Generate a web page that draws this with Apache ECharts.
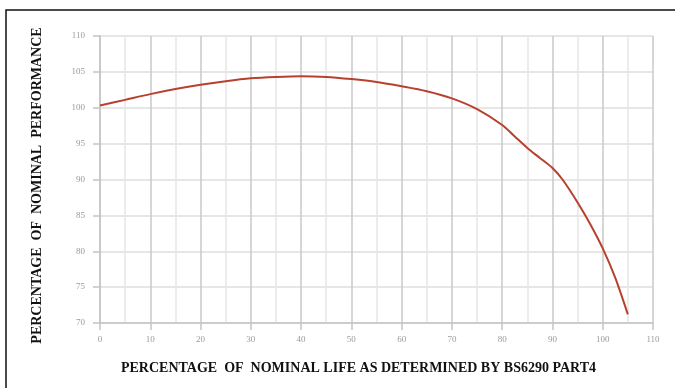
<!DOCTYPE html>
<html>
<head>
<meta charset="utf-8">
<script src="https://cdn.jsdelivr.net/npm/echarts@6/dist/echarts.min.js"></script>
<style>
  html, body { margin: 0; padding: 0; background: #fff; }
  #chart { width: 675px; height: 388px; }
</style>
</head>
<body>
<div id="chart"></div>
<script>
// Percentage of nominal life (x) against percentage of nominal performance (y)
const lifePct = [0, 5, 10, 15, 20, 25, 30, 35, 40, 45, 50, 55, 60, 65, 70, 75, 80, 82.5, 85, 87.5, 90, 92, 95, 97.5, 100, 102.5, 105];
const performancePct = [100.3, 101.1, 101.9, 102.6, 103.2, 103.7, 104.1, 104.3, 104.4, 104.3, 104.0, 103.6, 103.0, 102.3, 101.3, 99.8, 97.6, 96.0, 94.4, 93.0, 91.6, 90.0, 86.8, 83.8, 80.4, 76.3, 71.2];

const xTitle = 'PERCENTAGE  OF  NOMINAL LIFE AS DETERMINED BY BS6290 PART4';
const yTitle = 'PERCENTAGE  OF  NOMINAL  PERFORMANCE';

const points = lifePct.map((x, i) => [x, performancePct[i]]);

const chart = echarts.init(document.getElementById('chart'), null, { renderer: 'canvas' });

const labelStyle = { color: '#9a9a9a', fontFamily: 'Liberation Serif', fontSize: 9 };

chart.setOption({
  animation: false,
  backgroundColor: '#ffffff',
  graphic: [
    {
      type: 'rect',
      shape: { x: 6, y: 10, width: 720, height: 420 },
      style: { fill: 'none', stroke: '#111', lineWidth: 1.5 },
      silent: true
    }
  ],
  grid: { left: 100, top: 36, right: 22, bottom: 65 },
  xAxis: {
    type: 'value',
    min: 0, max: 110, interval: 10,
    name: xTitle,
    nameLocation: 'middle',
    nameGap: 38,
    nameTextStyle: {
      fontFamily: 'Liberation Serif', fontWeight: 'bold', fontSize: 14, color: '#111',
      padding: [0, 36, 0, 0]
    },
    axisLine: { show: true, lineStyle: { color: '#c4c4c4', width: 1.5 } },
    axisTick: { show: true, length: 7, lineStyle: { color: '#c4c4c4', width: 1.5 } },
    axisLabel: Object.assign({ margin: 12 }, labelStyle),
    splitLine: { show: true, lineStyle: { color: '#c8c8c8', width: 1.5 } },
    minorTick: { show: false, splitNumber: 2 },
    minorSplitLine: { show: true, lineStyle: { color: '#e6e6e6', width: 1.5 } }
  },
  yAxis: {
    type: 'value',
    min: 70, max: 110, interval: 5,
    name: yTitle,
    nameLocation: 'middle',
    nameGap: 56,
    nameRotate: 90,
    nameTextStyle: {
      fontFamily: 'Liberation Serif', fontWeight: 'bold', fontSize: 14, color: '#111',
      padding: [0, 12, 0, 0]
    },
    axisLine: { show: true, lineStyle: { color: '#c4c4c4', width: 1.5 } },
    axisTick: { show: true, length: 7, lineStyle: { color: '#c4c4c4', width: 1.5 } },
    axisLabel: Object.assign({ margin: 15 }, labelStyle),
    splitLine: { show: true, lineStyle: { color: '#dedede', width: 1.5 } }
  },
  series: [
    {
      type: 'line',
      data: points,
      smooth: 0.3,
      showSymbol: false,
      lineStyle: { color: '#b8402e', width: 2 }
    }
  ]
});
</script>
</body>
</html>
